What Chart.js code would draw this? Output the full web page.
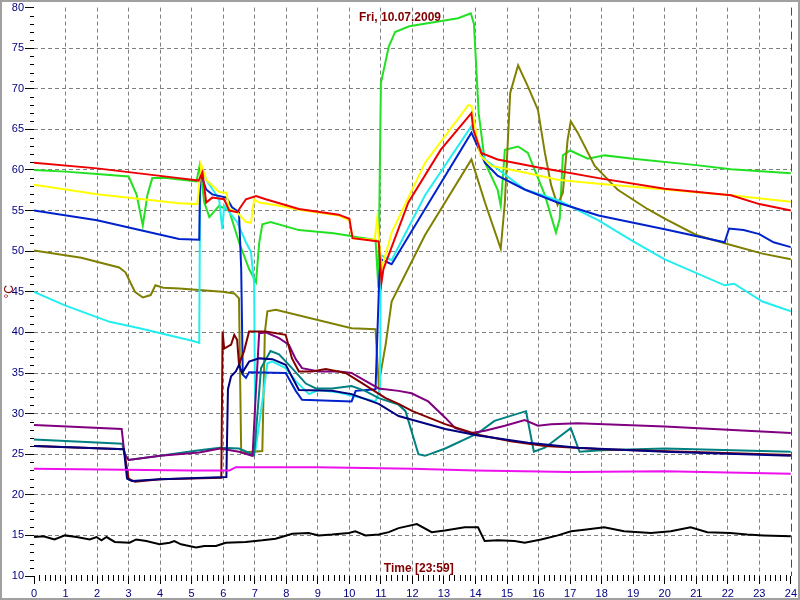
<!DOCTYPE html>
<html>
<head>
<meta charset="utf-8">
<script src="https://cdn.jsdelivr.net/npm/chart.js@4.4.1/dist/chart.umd.min.js"></script>
<style>
  html, body { margin: 0; padding: 0; background: #fff; }
</style>
</head>
<body>
<canvas id="chart" width="800" height="600"></canvas>
<script>
// time axis (hours) and temperature axis (°C)
const xRange = [0, 24];
const yRange = [10, 80];

// each series: [hour, °C] pairs
const green = [[0,60],[1,59.8],[2,59.5],[3,59.2],[3.25,57],[3.45,53.2],[3.6,57],[3.75,59],[4.2,59],[5.15,58.6],[5.25,60.5],[5.4,56],[5.56,54.2],[5.87,55.6],[6.19,55],[6.5,51.1],[6.82,47.8],[7.04,46.2],[7.14,51],[7.24,53.3],[7.5,53.6],[8.4,52.6],[9.5,52.2],[10,51.9],[10.3,51.7],[10.83,51.4],[10.92,45.5],[11.0,70.7],[11.25,75.2],[11.45,77],[11.9,77.7],[13.45,78.7],[13.85,79.3],[13.95,78],[14.1,67],[14.3,60.9],[14.7,57.6],[14.8,55.6],[14.93,62.5],[15.35,62.9],[15.66,62.1],[16.2,56.9],[16.55,52.3],[16.67,54],[16.77,61.8],[17.0,62.4],[17.56,61.4],[18.1,61.8],[19,61.4],[21,60.6],[22.1,60.1],[24,59.6]];
const red = [[0,60.9],[2,60.2],[4.6,59],[5.22,58.7],[5.34,59.7],[5.46,56],[5.65,56.6],[6.03,56.4],[6.19,55],[6.44,54.8],[6.72,56.4],[7.04,56.8],[7.35,56.4],[8.4,55.2],[9.66,54.5],[10.0,54],[10.1,51.6],[10.93,51.2],[11.02,46.2],[11.08,47.8],[11.87,56],[12.9,62.5],[13.87,67],[13.93,65],[14.18,62.1],[14.7,61.3],[16,60.3],[16.6,59.9],[17.9,59],[20,57.7],[22.1,56.9],[23,55.8],[24,55]];
const yellow = [[0,58.2],[2,57],[4.6,55.9],[5.18,55.8],[5.3,60.7],[5.46,58.8],[5.87,57.3],[6.1,57.2],[6.19,55.2],[6.44,54.8],[6.72,53.6],[6.88,53.5],[6.98,56.4],[7.14,56],[7.77,55.6],[8.4,55.1],[9.66,54.4],[10.0,53.8],[10.1,51.6],[10.8,51.4],[10.88,54],[11.02,47.8],[11.34,52.3],[12.4,60.9],[13.77,68],[13.87,67.9],[14.15,61.8],[14.5,60.5],[15.56,59.7],[16.6,58.8],[17.9,58.3],[20,57.6],[22.1,56.9],[24,56.1]];
const blue = [[0,55],[2,53.8],[4.6,51.5],[5.24,51.4],[5.27,59.7],[5.46,57.6],[5.65,57],[6.1,56.6],[6.28,55.4],[6.5,54.8],[6.57,47.8],[6.62,34.8],[6.72,34.4],[6.82,35.1],[7.98,35],[8.3,32.8],[8.5,31.7],[10.07,31.5],[10.2,32.8],[10.83,33],[10.95,47],[11.0,49],[11.34,48.4],[12.4,55.2],[13.87,64.6],[14.3,60.9],[14.7,59.3],[15.56,57.6],[16.6,56],[17.9,54.4],[20,52.7],[21.9,51.1],[22.04,52.8],[22.5,52.6],[23,52.1],[23.45,51.1],[24,50.5]];
const cyan = [[0,45],[1,43.3],[2.4,41.3],[3.35,40.5],[5.08,38.9],[5.24,38.7],[5.27,60.5],[5.46,58.8],[5.87,56.4],[5.97,52.7],[6.03,55.6],[6.19,54.8],[6.44,53.6],[6.72,51.1],[6.88,49.9],[6.98,46],[7.02,25.4],[7.24,31.5],[7.4,36.2],[7.56,36.4],[7.98,35.6],[8.3,34],[8.72,32.4],[9.03,32.9],[9.66,32.6],[10.2,32.1],[10.83,31.5],[10.97,33],[11.0,49.5],[11.34,48.9],[12.4,56.9],[13.87,65.4],[14.3,61.3],[15.56,57.6],[16.6,56.3],[17.9,53.8],[19,51.2],[20,49],[21.9,45.8],[22.2,46],[23.1,43.8],[24,42.6]];
const olive = [[0,50.1],[1.5,49.2],[2.7,48],[2.9,47.4],[3.2,45],[3.45,44.3],[3.7,44.6],[3.85,45.8],[4.1,45.5],[4.61,45.4],[5.97,45],[6.35,44.8],[6.5,44.2],[6.57,25.2],[7.24,25.4],[7.32,40],[7.4,42.6],[7.67,42.8],[10.07,40.5],[10.83,40.4],[10.93,33.6],[11.15,38.5],[11.34,43.8],[12.4,52],[13.87,61.3],[14.3,56],[14.8,50.3],[14.93,56],[15.1,69.5],[15.35,72.9],[15.66,70.3],[15.98,67.4],[16.2,62.1],[16.4,58.1],[16.6,55.7],[16.77,57.2],[16.92,63.7],[17.02,66],[17.24,64.6],[17.78,60.5],[18.5,57.6],[19.45,55.2],[20,54],[21,52],[22.07,50.8],[23.1,49.7],[24,49]];
const maroon = [[0,26],[2.85,25.6],[3.0,22],[3.2,21.6],[4,21.9],[5.94,22.1],[5.98,40.1],[6.03,38],[6.25,38.5],[6.35,39.7],[6.44,39.1],[6.5,36.1],[6.66,37.7],[6.82,40.1],[7.35,40.1],[7.98,39.7],[8.18,36.8],[8.4,35.2],[8.82,35.2],[9.25,35.5],[9.88,35],[10.3,34],[11.15,31.9],[11.56,31.2],[12,30.3],[13.04,28.7],[14.08,27.4],[15.12,26.6],[16.2,26],[18,25.6],[24,24.9]];
const navy = [[0,26],[2.85,25.6],[2.95,22],[3.1,21.7],[4,21.9],[6.1,22.2],[6.15,33],[6.25,34.6],[6.4,35.2],[6.5,36],[6.6,35],[6.82,36.4],[7.14,36.8],[7.56,36.7],[7.98,36],[8.4,32.9],[9.45,32.8],[10.07,32.4],[10.93,31.2],[11.56,29.7],[13.04,28.1],[14.08,27.3],[15.66,26.4],[17.24,25.8],[20,25.3],[24,24.8]];
const purple = [[0,28.6],[2.78,28.1],[2.87,25],[3.0,24.3],[4,24.8],[5.24,25.2],[5.9,25.7],[6.5,25.3],[6.93,24.8],[7.04,33],[7.14,39.9],[7.35,40],[7.77,39.3],[8.08,38.5],[8.3,36.7],[8.5,35.6],[9.03,35.2],[9.66,35.2],[10.07,35],[10.93,33.1],[11.56,32.8],[11.97,32.5],[12.5,31.5],[13.04,29.5],[13.36,28.2],[13.87,27.6],[14.3,27.9],[14.93,28.5],[15.56,29.2],[15.98,28.5],[16.4,28.7],[17.24,28.8],[20,28.4],[24,27.6]];
const teal = [[0,26.8],[2.8,26.3],[2.87,25],[3.0,24.3],[4,24.8],[5.24,25.5],[5.9,25.8],[6.5,25.7],[6.98,24.9],[7.2,35.6],[7.5,37.7],[7.77,37.3],[8.18,35.6],[8.62,33.7],[8.94,33.1],[9.45,33.1],[10.07,33.4],[10.5,32.8],[10.93,31.9],[11.56,31.1],[11.78,30.3],[12.19,25],[12.4,24.8],[13.04,25.7],[14.08,27.6],[14.6,29.1],[15.6,30.3],[15.85,25.3],[16.2,25.8],[17.02,28.2],[17.3,25.3],[18,25.5],[20,25.7],[24,25.3]];
const magenta = [[0,23.2],[5,23],[6.2,23],[6.4,23.4],[9,23.4],[12,23.2],[14,23],[17,22.8],[20,22.9],[24,22.6]];
const black = [[0,14.8],[0.3,14.9],[0.65,14.5],[0.98,15],[1.35,14.8],[1.77,14.5],[1.98,14.8],[2.14,14.4],[2.3,14.8],[2.56,14.2],[3.03,14.1],[3.24,14.5],[3.56,14.3],[3.98,13.9],[4.3,14.1],[4.45,14.3],[4.66,13.9],[5.14,13.5],[5.4,13.7],[5.77,13.7],[6.08,14.1],[6.71,14.2],[7.24,14.4],[7.66,14.6],[8.19,15.2],[8.71,15.3],[9.03,15],[9.45,15.1],[9.98,15.3],[10.19,15.5],[10.51,15],[10.93,15.1],[11.25,15.4],[11.56,15.9],[12.14,16.4],[12.61,15.4],[13.03,15.6],[13.66,16],[14.08,16],[14.29,14.3],[14.71,14.4],[15.24,14.3],[15.56,14.1],[16.08,14.5],[16.61,15],[17.03,15.5],[17.45,15.7],[18.08,16],[18.71,15.5],[19.56,15.3],[20.19,15.5],[20.82,16],[21.35,15.4],[22.08,15.3],[22.61,15.1],[23.13,15],[24,14.9]];

const series = [
  { data: black,   color: '#000000' },
  { data: magenta, color: '#ee11ee' },
  { data: navy,    color: '#000080' },
  { data: maroon,  color: '#800000' },
  { data: purple,  color: '#800080' },
  { data: teal,    color: '#008080' },
  { data: red,     color: '#ee0000' },
  { data: yellow,  color: '#ffff00' },
  { data: blue,    color: '#0022cc' },
  { data: cyan,    color: '#22eef0' },
  { data: olive,   color: '#808000' },
  { data: green,   color: '#22e022' }
];

const GRID = '#808080';

// minor ticks, captions, right-hand marker line and picture frame
const decor = {
  id: 'decor',
  afterDraw(chart) {
    const { ctx, chartArea: a, scales: { x, y } } = chart;
    ctx.save();
    ctx.strokeStyle = '#000000';
    ctx.lineWidth = 1;
    ctx.beginPath();
    for (let m = 1; m < 24 * 6; m++) {
      if (m % 6 === 0) continue;
      const px = Math.round(x.getPixelForValue(m / 6)) + 0.5;
      ctx.moveTo(px, a.bottom - 1);
      ctx.lineTo(px, a.bottom + 5);
    }
    for (let v = yRange[0]; v <= yRange[1]; v++) {
      if (v % 5 === 0) continue;
      const py = Math.round(y.getPixelForValue(v)) + 0.5;
      ctx.moveTo(a.left - 4, py);
      ctx.lineTo(a.left, py);
    }
    ctx.stroke();

    // dashed end-of-day marker
    ctx.strokeStyle = '#008000';
    ctx.setLineDash([8, 4]);
    const xe = Math.round(x.getPixelForValue(24)) + 0.5;
    ctx.beginPath();
    ctx.moveTo(xe, a.top);
    ctx.lineTo(xe, a.bottom);
    ctx.stroke();
    ctx.setLineDash([]);

    ctx.fillStyle = '#800000';
    ctx.font = 'bold 12px "Liberation Sans", Arial, sans-serif';
    ctx.textAlign = 'center';
    ctx.textBaseline = 'middle';
    ctx.fillText('Fri, 10.07.2009', 400, 18);
    ctx.fillText('Time [23:59]', x.getPixelForValue(12.2), a.bottom - 7);

    ctx.strokeStyle = '#a0a0a0';
    ctx.lineWidth = 2;
    ctx.strokeRect(1, 1, chart.width - 2, chart.height - 2);
    ctx.restore();
  }
};

new Chart(document.getElementById('chart'), {
  type: 'line',
  data: {
    datasets: series.map(s => ({
      data: s.data.map(p => ({ x: p[0], y: p[1] })),
      borderColor: s.color,
      backgroundColor: s.color,
      borderWidth: 2,
      pointRadius: 0,
      tension: 0,
      fill: false
    }))
  },
  options: {
    responsive: false,
    animation: false,
    devicePixelRatio: 1,
    layout: { padding: { left: 0, top: 4, right: 6, bottom: 0 } },
    plugins: { legend: { display: false }, tooltip: { enabled: false } },
    scales: {
      x: {
        type: 'linear',
        min: xRange[0],
        max: xRange[1],
        ticks: {
          stepSize: 1,
          autoSkip: false,
          maxRotation: 0,
          padding: 3,
          color: '#000080',
          font: { family: '"Liberation Sans", Arial, sans-serif', size: 11 }
        },
        grid: {
          color: c => (c.tick && (c.tick.value === 0 || c.tick.value === 24)) ? 'rgba(0,0,0,0)' : GRID,
          tickColor: '#000000',
          tickLength: 8,
          tickBorderDash: []
        },
        border: { display: false, dash: [4, 3] },
        afterFit: s => { s.height = 24; }
      },
      y: {
        type: 'linear',
        min: yRange[0],
        max: yRange[1],
        ticks: {
          stepSize: 5,
          padding: 1,
          color: '#000080',
          font: { family: '"Liberation Sans", Arial, sans-serif', size: 11 }
        },
        grid: {
          color: c => (c.tick && (c.tick.value === 10 || c.tick.value === 80)) ? 'rgba(0,0,0,0)' : GRID,
          tickColor: '#000000',
          tickLength: 9,
          tickBorderDash: []
        },
        border: { display: false, dash: [4, 3] },
        title: {
          display: true,
          text: '°C',
          color: '#800000',
          padding: { top: 2, bottom: 0 },
          font: { family: '"Liberation Sans", Arial, sans-serif', size: 12 }
        },
        afterFit: s => { s.width = 34; }
      }
    }
  },
  plugins: [decor]
});
</script>
</body>
</html>
